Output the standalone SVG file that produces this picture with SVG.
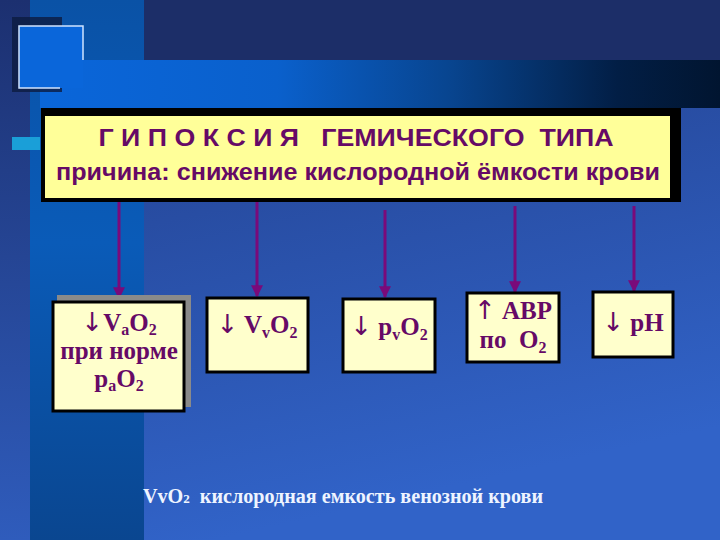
<svg xmlns="http://www.w3.org/2000/svg" width="720" height="540" viewBox="0 0 720 540">
<defs>
<linearGradient id="bgMain" x1="0" y1="0" x2="0.3" y2="1">
<stop offset="0" stop-color="#213c86"/>
<stop offset="1" stop-color="#3163c8"/>
</linearGradient>
<linearGradient id="bgLeft" x1="0" y1="0" x2="0" y2="1">
<stop offset="0" stop-color="#1c3070"/>
<stop offset="1" stop-color="#2f5cbc"/>
</linearGradient>
<linearGradient id="band" x1="0" y1="0" x2="0" y2="1">
<stop offset="0" stop-color="#0a52a6"/>
<stop offset="0.45" stop-color="#0a5bb8"/>
<stop offset="1" stop-color="#0a4690"/>
</linearGradient>
<linearGradient id="bar" x1="0" y1="0" x2="1" y2="0">
<stop offset="0" stop-color="#0a66da"/>
<stop offset="0.35" stop-color="#0a60cc"/>
<stop offset="0.6" stop-color="#084590"/>
<stop offset="0.85" stop-color="#021e45"/>
<stop offset="1" stop-color="#011530"/>
</linearGradient>
<marker id="ah" viewBox="0 0 10 10" refX="9" refY="5" markerWidth="4" markerHeight="4" orient="auto" markerUnits="strokeWidth">
<path d="M0,0 L10,5 L0,10 z" fill="#7a0a7a"/>
</marker>
</defs>
<style>
.hd{font-family:"Liberation Sans","DejaVu Sans",sans-serif;font-weight:bold;fill:#660a66;font-size:24px;text-anchor:middle}
.bx{fill:#ffffcc;stroke:#000;stroke-width:3}
.lb{font-family:"Liberation Serif","Times New Roman",serif;font-weight:bold;fill:#660a66;font-size:25px;text-anchor:middle}
.ar{font-family:"DejaVu Sans",sans-serif;font-size:26px;font-weight:normal}
.sub{font-size:16px}
.cn{stroke:#7a0a7a;stroke-width:3;fill:none;marker-end:url(#ah)}
.ft{font-family:"Liberation Serif","Times New Roman",serif;font-weight:bold;fill:#eef4ff;font-size:20px}
</style>
<!-- background -->
<rect x="0" y="0" width="720" height="540" fill="url(#bgMain)"/>
<rect x="0" y="0" width="720" height="60" fill="#1c2e68"/>
<rect x="0" y="0" width="30" height="540" fill="url(#bgLeft)"/>
<rect x="30" y="0" width="114" height="540" fill="url(#band)"/>
<rect x="40" y="60" width="680" height="48" fill="url(#bar)"/>
<rect x="12" y="17" width="50" height="75" fill="#0c1c40" opacity="0.8"/>
<rect x="19" y="26" width="64" height="62" fill="#0a66da"/>
<path d="M60,88 H19 V26 H83 V60" fill="none" stroke="#cfe4ff" stroke-width="1.5"/>
<rect x="12" y="137" width="28" height="13" fill="#1a9fd8"/>

<!-- header node -->
<g id="header">
<rect x="41" y="108" width="640" height="94" fill="#000"/>
<rect x="45" y="116" width="625" height="82" fill="#ffff99"/>
<text class="hd" x="356" y="146" xml:space="preserve" textLength="515" lengthAdjust="spacingAndGlyphs">Г И П О К С И Я   ГЕМИЧЕСКОГО  ТИПА</text>
<text class="hd" x="358" y="180" textLength="604" lengthAdjust="spacingAndGlyphs">причина: снижение кислородной ёмкости крови</text>
</g>

<!-- connectors -->
<g id="connectors">
<line class="cn" x1="119" y1="202" x2="119" y2="298"/>
<line class="cn" x1="257" y1="202" x2="257" y2="296"/>
<line class="cn" x1="385" y1="210" x2="385" y2="297"/>
<line class="cn" x1="515" y1="206" x2="515" y2="292"/>
<line class="cn" x1="634" y1="206" x2="634" y2="291"/>
</g>

<g id="n1">
<rect x="57" y="295" width="134" height="112" fill="#8a8a8a"/>
<rect class="bx" x="53" y="302" width="131" height="109"/>
<text class="lb" x="119" y="331"><tspan class="ar">↓</tspan>V<tspan class="sub" dy="4">a</tspan><tspan dy="-4">O</tspan><tspan class="sub" dy="4">2</tspan></text>
<text class="lb" x="119" y="359">при норме</text>
<text class="lb" x="119" y="387">p<tspan class="sub" dy="4">a</tspan><tspan dy="-4">O</tspan><tspan class="sub" dy="4">2</tspan></text>
</g>

<g id="n2">
<rect class="bx" x="207" y="298" width="101" height="74"/>
<text class="lb" x="257" y="333"><tspan class="ar">↓</tspan> V<tspan class="sub" dy="5">v</tspan><tspan dy="-5">O</tspan><tspan class="sub" dy="5">2</tspan></text>
</g>

<g id="n3">
<rect class="bx" x="343" y="299" width="92" height="73"/>
<text class="lb" x="389" y="335"><tspan class="ar">↓</tspan> p<tspan class="sub" dy="5">v</tspan><tspan dy="-5">O</tspan><tspan class="sub" dy="5">2</tspan></text>
</g>

<g id="n4">
<rect class="bx" x="467" y="293" width="92" height="69"/>
<text class="lb" x="513" y="319"><tspan class="ar">↑</tspan> АВР</text>
<text class="lb" x="513" y="348" xml:space="preserve">по  O<tspan class="sub" dy="5">2</tspan></text>
</g>

<g id="n5">
<rect class="bx" x="593" y="292" width="80" height="65"/>
<text class="lb" x="633" y="331"><tspan class="ar">↓</tspan> pH</text>
</g>

<g id="footnote">
<text class="ft" x="143" y="503" xml:space="preserve" textLength="400" lengthAdjust="spacingAndGlyphs">VvO<tspan font-size="13">2</tspan>  кислородная емкость венозной крови</text>
</g>
</svg>
